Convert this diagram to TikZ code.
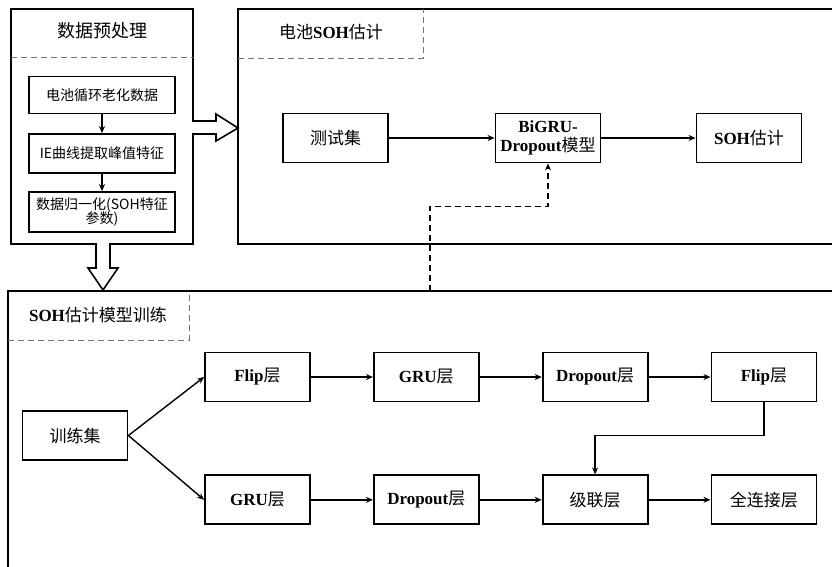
\documentclass[tikz,border=0pt]{standalone}
\usepackage{fontspec}
\setmainfont{Liberation Serif}
\newfontfamily\cjk{Noto Sans CJK SC}
\newcommand\zh[1]{{\cjk\mdseries #1}}
\usetikzlibrary{arrows.meta,positioning}
\tikzset{
  panel/.style={
    line width=2pt,
    draw=black
  },
  sep/.style={
    dashed,
    line width=1pt,
    draw=black!55,
    dash pattern=on 6pt off 4pt
  },
  hueco/.style={
    line width=1.6pt,
    draw=black,
    fill=white,
    line join=miter
  },
  titulo/.style={
    align=center,
    inner sep=2pt,
    font=\fontsize{17}{20}\selectfont
  },
  bloque/.style={
    draw=black,
    line width=1.8pt,
    align=center,
    minimum width=105pt,
    minimum height=49pt,
    inner sep=2pt,
    font=\fontsize{17}{19}\selectfont\bfseries
  },
  mini/.style={
    draw=black,
    line width=1.8pt,
    align=center,
    minimum width=146pt,
    minimum height=37pt,
    inner sep=1pt,
    font=\fontsize{14}{17}\selectfont
  },
  arrow/.style={
    -{Stealth[length=7pt,width=6pt]},
    line width=1.4pt,
    black
  }
}
\begin{document}
\begin{tikzpicture}[x=1pt,y=-1pt,node distance=62pt]
\useasboundingbox (0,0) rectangle (832,566);
\clip (0,0) rectangle (832,566);
\fill[white] (0,0) rectangle (832,566);
% marcos
\draw[panel] (11,9) rectangle (193,244);
\draw[panel] (845,9) -| (238,244) -- (845,244);
\draw[panel] (845,291) -| (8,580);
\draw[sep] (11,57) -- (193,57);
\draw[sep] (238,58) -| (423,9);
\draw[sep] (8,340) -| (189,291);
\node[titulo,font=\fontsize{18}{21}\selectfont] (t1) at (102,31) {\zh{数据预处理}};
\node[titulo] (t2) at (331,32) {\zh{电池}\textbf{SOH}\zh{估计}};
\node[titulo] (t3) at (98,315) {\textbf{SOH}\zh{估计模型训练}};
% flechas huecas
\draw[hueco] (192,121) -- (216,121) -- (216,114) -- (238,128) -- (216,141) -- (216,134) -- (192,134);
\draw[hueco] (96,243) -- (96,268) -- (88,268) -- (103,290) -- (118,268) -- (110,268) -- (110,243);
% preprocesado
\node[mini] (datos) at (102,95) {\zh{电池循环老化数据}};
\node[mini,minimum height=39pt] (pico) at (102,153.5) {\zh{IE曲线提取峰值特征}};
\node[mini,minimum height=40pt] (norm) at (102,212) {\zh{数据归一化(SOH特征}\\[-3pt]\zh{参数)}};
\draw[arrow] (datos) -- (pico);
\draw[arrow] (pico) -- (norm);
% estimacion
\node[bloque] (test) at (335.5,138) {\zh{测试集}};
\node[bloque] (bigru) at (548,138) {BiGRU-\\Dropout\zh{模型}};
\node[bloque] (soh) at (749,138) {SOH\zh{估计}};
\draw[arrow] (test) -- (bigru);
\draw[arrow] (bigru) -- (soh);
\coordinate (d0) at (430,291);
\draw[arrow,dashed,dash pattern=on 6pt off 4pt] (d0) |- ([yshift=-43pt]bigru.south) -- (bigru.south);
% entrenamiento
\node[bloque] (train) at (75,435.5) {\zh{训练集}};
\node[bloque] (flipa) at (257.5,377) {Flip\zh{层}};
\node[bloque,right=of flipa] (grua) {GRU\zh{层}};
\node[bloque,right=of grua] (dropa) {Dropout\zh{层}};
\node[bloque,right=of dropa] (flipb) {Flip\zh{层}};
\node[bloque,below=72pt of flipa] (grub) {GRU\zh{层}};
\node[bloque,right=of grub] (dropb) {Dropout\zh{层}};
\node[bloque,right=of dropb] (concat) {\zh{级联层}};
\node[bloque,right=of concat] (dense) {\zh{全连接层}};
\draw[arrow] (train.east) -- (flipa.west);
\draw[arrow] (train.east) -- (grub.west);
\draw[arrow] (flipa) -- (grua);
\draw[arrow] (grua) -- (dropa);
\draw[arrow] (dropa) -- (flipb);
\draw[arrow] (grub) -- (dropb);
\draw[arrow] (dropb) -- (concat);
\draw[arrow] (concat) -- (dense);
\draw[arrow] (flipb.south) -- ++(0,33) -| (concat.north);
\end{tikzpicture}
\end{document}
